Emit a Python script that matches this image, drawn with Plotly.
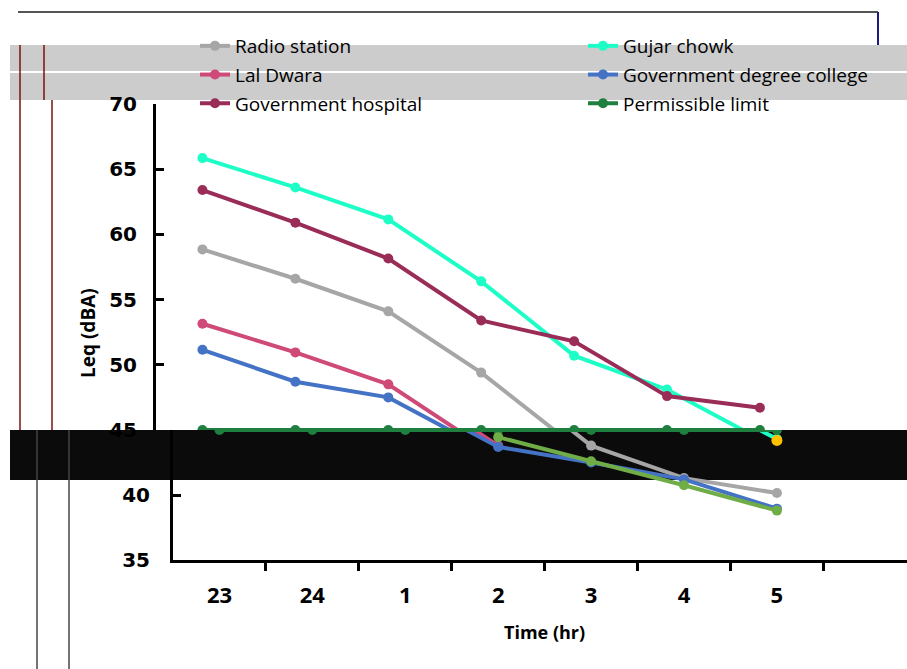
import plotly.graph_objects as go

# ---------------- data ----------------
hours = ["23", "24", "1", "2", "3", "4", "5"]
radio_station = [58.85, 56.6, 54.1, 49.4, 43.8, 41.3, 40.15]
gujar_chowk = [65.85, 63.6, 61.15, 56.4, 50.7, 48.1, 44.3]
lal_dwara = [53.15, 50.95, 48.5, 43.8, None, None, None]
govt_degree_college = [51.15, 48.7, 47.5, 43.7, 42.5, 41.2, 38.95]
govt_hospital = [63.4, 60.9, 58.15, 53.4, 51.8, 47.6, 46.7]
permissible_limit = [45, 45, 45, 45, 45, 45, 45]
extra_green = [None, None, None, 44.45, 42.6, 40.75, 38.8]
extra_gold = [None, None, None, None, None, None, 44.2]

y_ticks_upper = [45, 50, 55, 60, 65, 70]
y_ticks_lower = [35, 40]

W, H = 907, 669
def fx(p):
    return p / W
def fy(p):
    return (H - p) / H

xi = list(range(len(hours)))

series = [
    ("Radio station", radio_station, "#A6A6A6", "legend", True),
    ("Gujar chowk", gujar_chowk, "#1DFFC6", "legend2", True),
    ("Lal Dwara", lal_dwara, "#CF4A78", "legend", True),
    ("Government degree college", govt_degree_college, "#4472C4", "legend2", True),
    ("Government hospital", govt_hospital, "#9A2C58", "legend", True),
    ("Permissible limit", permissible_limit, "#1E7F3E", "legend2", True),
    ("extra green", extra_green, "#70AD47", "legend", False),
    ("extra gold", extra_gold, "#FFC000", "legend", False),
]

fig = go.Figure()
# upper (shifted) panel
for name, vals, col, lg, show in series:
    fig.add_trace(go.Scatter(
        x=xi, y=vals, name=name, mode="lines+markers",
        line=dict(color=col, width=4), marker=dict(color=col, size=10),
        xaxis="x2", yaxis="y2", legend=lg, legendgroup=name,
        showlegend=show, connectgaps=False))
# lower panel
for name, vals, col, lg, show in series:
    fig.add_trace(go.Scatter(
        x=xi, y=vals, name=name, mode="lines+markers",
        line=dict(color=col, width=4), marker=dict(color=col, size=11 if name == "extra gold" else 10),
        xaxis="x", yaxis="y", legendgroup=name, showlegend=False))

xtickfont = dict(family="Open Sans", size=22, color="black", weight="bold")
ytickfont = dict(family="DejaVu Sans", size=20, color="black", weight="bold")
legfont = dict(family="Open Sans", size=19, color="black")

fig.update_layout(
    template="none",
    width=W, height=H, margin=dict(l=0, r=0, t=0, b=0, autoexpand=False),
    paper_bgcolor="white", plot_bgcolor="rgba(0,0,0,0)",
    xaxis=dict(domain=[fx(173), 1], range=[-0.5, 7.4], anchor="y",
               automargin=False,
               tickmode="array", tickvals=xi, ticktext=hours, ticks="",
               showline=True, linewidth=3, linecolor="black",
               showgrid=False, zeroline=False, tickfont=xtickfont,
               ticklabelstandoff=14,
               minor=dict(tickmode="array", tickvals=[v + 0.5 for v in xi],
                          ticks="outside", ticklen=8, tickwidth=3, tickcolor="black",
                          showgrid=False)),
    yaxis=dict(domain=[fy(560), fy(430)], range=[35, 45], anchor="x",
               automargin=False,
               tickmode="array", tickvals=y_ticks_lower, ticks="inside",
               ticklen=8, tickwidth=3, tickcolor="black",
               showline=True, linewidth=3, linecolor="black",
               showgrid=False, zeroline=False, tickfont=ytickfont,
               ticklabelstandoff=16),
    xaxis2=dict(domain=[fx(156), fx(890)], range=[-0.5, 7.4], anchor="y2",
                automargin=False, visible=False),
    yaxis2=dict(domain=[fy(430), fy(104)], range=[45, 70], anchor="x2",
                automargin=False,
                tickmode="array", tickvals=y_ticks_upper, ticks="inside",
                ticklen=8, tickwidth=3, tickcolor="black",
                showline=True, linewidth=3, linecolor="black",
                showgrid=False, zeroline=False, tickfont=ytickfont,
                ticklabelstandoff=12),
    legend=dict(x=fx(195), y=fy(27), xanchor="left", yanchor="top",
                bgcolor="rgba(0,0,0,0)", tracegroupgap=1, borderwidth=0,
                font=legfont),
    legend2=dict(x=fx(583), y=fy(27), xanchor="left", yanchor="top",
                 bgcolor="rgba(0,0,0,0)", tracegroupgap=1, borderwidth=0,
                 font=legfont),
    annotations=[
        dict(text="Leq (dBA)", x=fx(88), y=fy(333), xref="paper", yref="paper",
             xanchor="center", yanchor="middle",
             showarrow=False, textangle=-90,
             font=dict(family="Open Sans", size=19, color="black", weight="bold")),
        dict(text="Time (hr)", x=fx(544), y=fy(632), xref="paper", yref="paper",
             xanchor="center", yanchor="middle",
             showarrow=False,
             font=dict(family="Open Sans", size=18, color="black", weight="bold")),
    ],
    shapes=[
        dict(type="rect", xref="paper", yref="paper", x0=fx(10), x1=1,
             y0=fy(100), y1=fy(45), fillcolor="#CCCCCC", line_width=0, layer="below"),
        dict(type="line", xref="paper", yref="paper", x0=fx(10), x1=1,
             y0=fy(72), y1=fy(72), line=dict(color="white", width=2), layer="below"),
        dict(type="rect", xref="paper", yref="paper", x0=fx(10), x1=1,
             y0=fy(480), y1=fy(430), fillcolor="#0B0B0B", line_width=0, layer="below"),
        dict(type="line", xref="paper", yref="paper", x0=fx(18), x1=fx(878),
             y0=fy(12), y1=fy(12), line=dict(color="#555555", width=2), layer="below"),
        dict(type="line", xref="paper", yref="paper", x0=fx(878), x1=fx(878),
             y0=fy(12), y1=fy(45), line=dict(color="#1A1A80", width=2), layer="below"),
        dict(type="line", xref="paper", yref="paper", x0=fx(20), x1=fx(20),
             y0=fy(45), y1=fy(430), line=dict(color="#7A1010", width=1.5), layer="below"),
        dict(type="line", xref="paper", yref="paper", x0=fx(44), x1=fx(44),
             y0=fy(45), y1=fy(100), line=dict(color="#7A1010", width=1.5), layer="below"),
        dict(type="line", xref="paper", yref="paper", x0=fx(52), x1=fx(52),
             y0=fy(100), y1=fy(430), line=dict(color="#7A1010", width=1.5), layer="below"),
        dict(type="line", xref="paper", yref="paper", x0=fx(37), x1=fx(37),
             y0=fy(430), y1=0, line=dict(color="#444444", width=1.5), layer="below"),
        dict(type="line", xref="paper", yref="paper", x0=fx(69), x1=fx(69),
             y0=fy(430), y1=0, line=dict(color="#444444", width=1.5), layer="below"),
    ],
)

fig.write_html("out.html")
